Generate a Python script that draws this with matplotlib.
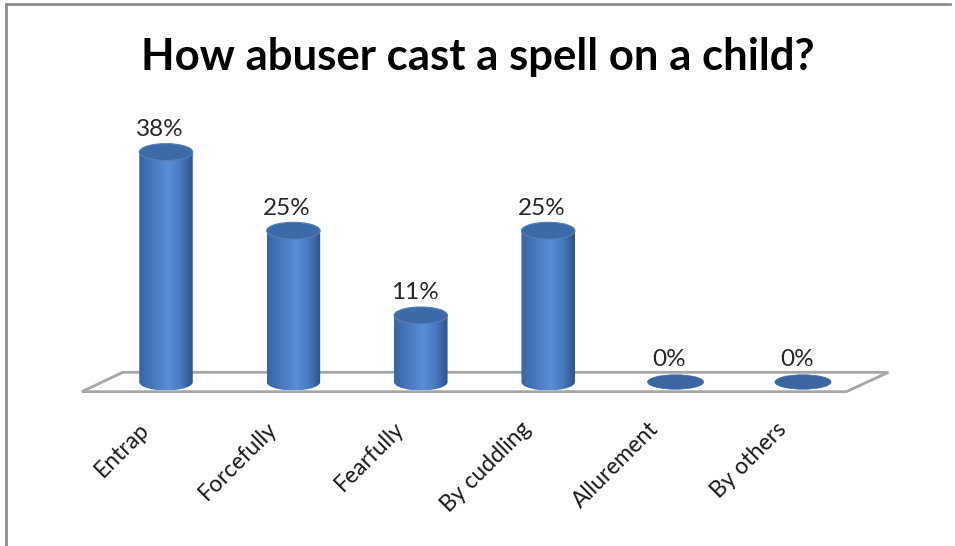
import numpy as np
import matplotlib
matplotlib.use("Agg")
import matplotlib.pyplot as plt
from matplotlib.patches import Ellipse, Polygon, PathPatch
from matplotlib.path import Path
from matplotlib.colors import LinearSegmentedColormap
from matplotlib.lines import Line2D

categories = ["Entrap", "Forcefully", "Fearfully", "By cuddling", "Allurement", "By others"]
values = [38, 25, 11, 25, 0, 0]
labels = ["38%", "25%", "11%", "25%", "0%", "0%"]
title = "How abuser cast a spell on a child?"

plt.rcParams['font.family'] = ['Lato', 'DejaVu Sans']

fig = plt.figure(figsize=(9.55, 5.46), dpi=100)
ax = fig.add_axes([0, 0, 1, 1])
ax.set_axis_off()

# pixel mapping: bar i at x = 166 + 127.4*i, value v at y = 382 - 6.05*v
xlo, xhi = (0 - 166) / 127.4, (955 - 166) / 127.4
ylo, yhi = (382 - 546) / 6.05, 382 / 6.05

bw = 0.42   # cylinder width
eh = 2.8    # ellipse height (data units)

# floor
floor = Polygon([(-0.34, eh / 2 + 0.2), (5.67, eh / 2 + 0.2),
                 (5.34, -eh / 2 - 0.2), (-0.66, -eh / 2 - 0.2)],
                closed=True, facecolor="white", edgecolor="#a6a6a6", lw=2, zorder=1)
ax.add_patch(floor)

grad = LinearSegmentedColormap.from_list(
    "cyl", [(0, "#3764a6"), (0.3, "#4a7cc2"), (0.55, "#5a8ed5"),
            (0.8, "#4577bb"), (1, "#2b5290")])
gimg = np.linspace(0, 1, 64).reshape(1, -1)

for i, (v, lab) in enumerate(zip(values, labels)):
    x0, x1 = i - bw / 2, i + bw / 2
    if v > 0:
        th = np.linspace(np.pi, 2 * np.pi, 40)
        bx = i + bw / 2 * np.cos(th)
        by = eh / 2 * np.sin(th)
        verts = [(x0, v)] + list(zip(bx, by)) + [(x1, v), (x0, v)]
        clip = PathPatch(Path(verts), facecolor="none", edgecolor="none", transform=ax.transData)
        ax.add_patch(clip)
        im = ax.imshow(gimg, cmap=grad, extent=(x0, x1, -eh / 2, v), aspect="auto",
                       interpolation="bilinear", zorder=3)
        im.set_clip_path(clip)
        ax.add_patch(Ellipse((i, v), bw, eh, facecolor="#3c69a7", edgecolor="#5580bd",
                             lw=0.8, zorder=4))
    else:
        ax.add_patch(Ellipse((i, 0), bw + 0.02, eh * 0.85, facecolor="#3b66a2",
                             edgecolor="#3b66a2", lw=0.5, zorder=4))
    ax.text(i - 0.05, v + eh / 2 + 0.6, lab, ha="center", va="bottom", fontsize=17.5,
            color="#262626", zorder=5)
    ax.text(i - 0.1, -6.0, categories[i], ha="right", va="top", rotation=45,
            fontsize=16.5, color="#1a1a1a")

ax.set_xlim(xlo, xhi)
ax.set_ylim(ylo, yhi)

fig.text(0.5, 1 - 57 / 546, title, ha="center", va="center", fontsize=31.5,
         fontweight="bold", color="black")

# chart frame (top and left edges)
fig.add_artist(Line2D([6 / 955, 950 / 955], [1 - 4 / 546, 1 - 4 / 546],
                      transform=fig.transFigure, color="#8c8c8c", lw=2))
fig.add_artist(Line2D([6 / 955, 6 / 955], [1 - 4 / 546, 0],
                      transform=fig.transFigure, color="#8c8c8c", lw=2))

fig.savefig("out.png", dpi=100)
